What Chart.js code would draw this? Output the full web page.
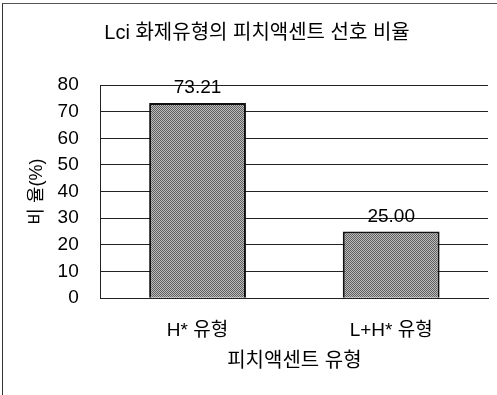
<!DOCTYPE html>
<html>
<head>
<meta charset="utf-8">
<script src="https://cdn.jsdelivr.net/npm/chart.js@4"></script>
<style>
  body { margin: 0; background: #fff; }
  #frame { position: absolute; left: 2px; top: 3px; width: 495px; height: 392px;
           border-top: 1px solid #555; border-left: 1px solid #333; }
  #wrap { position: absolute; left: 0; top: 0; width: 497px; height: 395px; }
</style>
</head>
<body>
<div id="frame"></div>
<div id="wrap"><canvas id="chartPitch"></canvas></div>
<script>
const categories = ['H* 유형', 'L+H* 유형'];
const ratios = [73.21, 25.00];
const valueLabels = ['73.21', '25.00'];
const yTicks = [0, 10, 20, 30, 40, 50, 60, 70, 80];

const FONT = "'Liberation Sans', Arial, 'Noto Sans CJK KR', sans-serif";

function makePattern() {
    const c = document.createElement('canvas');
    c.width = 4;
    c.height = 4;
    const ctx = c.getContext('2d');
    ctx.fillStyle = '#bdbdbd';
    ctx.fillRect(0, 0, 4, 4);
    ctx.fillStyle = '#5e5e5e';
    ctx.fillRect(0, 0, 1, 1);
    ctx.fillRect(2, 0, 1, 1);
    ctx.fillRect(1, 1, 1, 1);
    ctx.fillRect(3, 1, 1, 1);
    ctx.fillRect(0, 2, 1, 1);
    ctx.fillRect(2, 2, 1, 1);
    ctx.fillRect(3, 3, 1, 1);
    ctx.fillRect(1, 3, 1, 1);
    return ctx.createPattern(c, 'repeat');
}

// numbers above the bars
const valueLabelPlugin = {
    id: 'valueLabels',
    afterDatasetsDraw(chart) {
        const ctx = chart.ctx;
        const meta = chart.getDatasetMeta(0);
        ctx.save();
        ctx.font = '19px ' + FONT;
        ctx.fillStyle = '#000';
        ctx.textAlign = 'center';
        ctx.textBaseline = 'alphabetic';
        meta.data.forEach(function (bar, i) {
            ctx.fillText(valueLabels[i], bar.x, bar.y - 10);
        });
        ctx.restore();
    }
};

function renderChart() {
    const data = {
        labels: categories,
        datasets: [{
            data: ratios,
            backgroundColor: makePattern(),
            borderColor: '#111',
            borderWidth: 2,
            barPercentage: 0.5,
            categoryPercentage: 1.0
        }]
    };
    const config = {
        type: 'bar',
        data: data,
        options: {
            responsive: true,
            maintainAspectRatio: false,
            animation: false,
            layout: {
                padding: { left: 26, right: 9, top: 21, bottom: 22 }
            },
            plugins: {
                legend: { display: false },
                tooltip: { enabled: false },
                title: {
                    display: true,
                    text: 'Lci 화제유형의 피치액센트 선호 비율',
                    color: '#000',
                    font: { family: FONT, size: 20, weight: 'normal' },
                    padding: { top: 0, bottom: 40 }
                }
            },
            scales: {
                x: {
                    grid: { display: false, drawTicks: false },
                    border: { color: '#222', width: 1 },
                    ticks: {
                        color: '#000',
                        font: { family: FONT, size: 19 },
                        padding: 21
                    },
                    title: {
                        display: true,
                        text: '피치액센트 유형',
                        color: '#000',
                        font: { family: FONT, size: 20 },
                        padding: { top: -14, bottom: 0 }
                    }
                },
                y: {
                    min: 0,
                    max: 80,
                    afterBuildTicks: function (axis) {
                        axis.ticks = yTicks.map(function (v) { return { value: v }; });
                    },
                    grid: { color: '#222', lineWidth: 1, drawTicks: false },
                    border: { color: '#222', width: 1 },
                    ticks: {
                        color: '#000',
                        font: { family: FONT, size: 19 },
                        padding: 22
                    },
                    title: {
                        display: true,
                        text: '비 율(%)',
                        color: '#000',
                        font: { family: FONT, size: 18 },
                        padding: { top: 0, bottom: -12 }
                    }
                }
            }
        },
        plugins: [valueLabelPlugin]
    };
    new Chart(document.getElementById('chartPitch'), config);
}

renderChart();
</script>
</body>
</html>
